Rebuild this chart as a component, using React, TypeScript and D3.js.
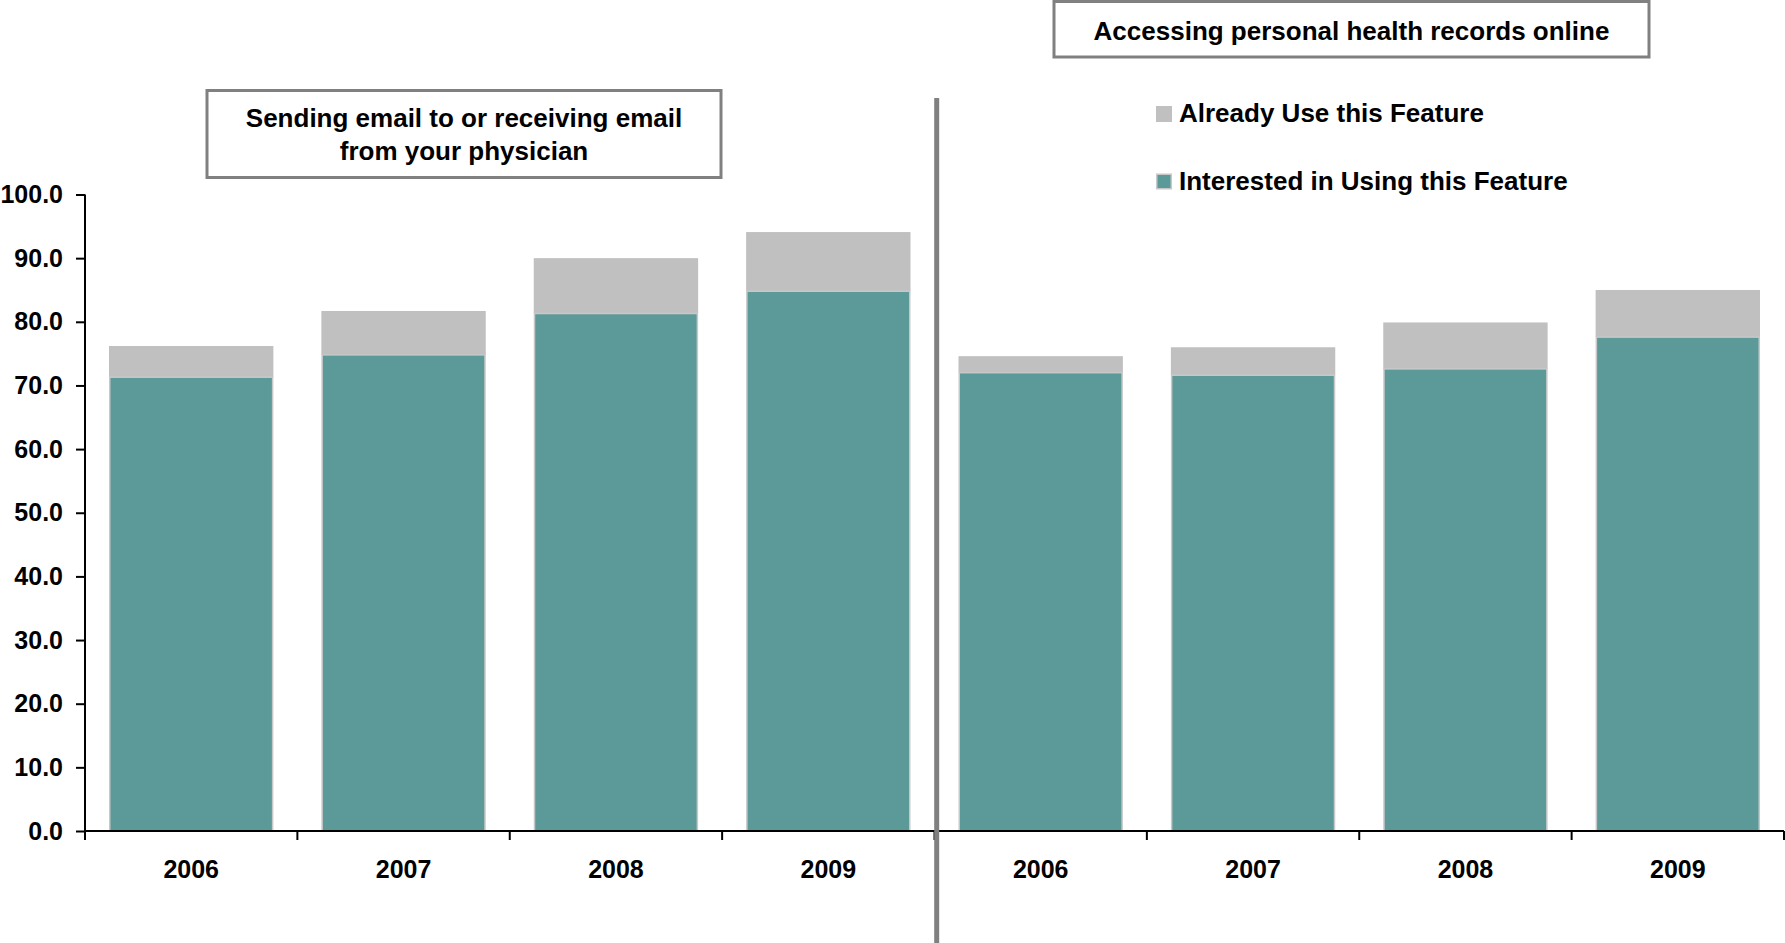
import { useEffect, useRef } from "react";
import * as d3 from "d3";

// ── Data ──────────────────────────────────────────────────────────────────────

const YEARS = ["2006", "2007", "2008", "2009"];
const PANELS = ["email", "phr"];
const PANEL_TITLES: Record<string, string[]> = {
  email: ["Sending email to or receiving email", "from your physician"],
  phr: ["Accessing personal health records online"],
};

// bottom segment (teal)
const INTERESTED_EMAIL = [71.3, 74.8, 81.3, 84.8];
const INTERESTED_PHR   = [72.0, 71.6, 72.6, 77.6];
// top segment (grey)
const ALREADY_EMAIL = [4.9, 6.9, 8.7, 9.3];
const ALREADY_PHR   = [2.6, 4.4, 7.3, 7.4];

const SERIES = ["Already Use this Feature", "Interested in Using this Feature"];
const Y_TICKS = [0, 10, 20, 30, 40, 50, 60, 70, 80, 90, 100];

// ── Tokens ────────────────────────────────────────────────────────────────────

const TEAL   = "#5B9A98";
const GREY   = "#C0C0C0";
const EDGE   = "#C8C8C8";
const FRAME  = "#808080";
const FG     = "#000000";
const FONT   = "'Liberation Sans', Arial, Helvetica, sans-serif";

export default function App() {
  const svgRef = useRef<SVGSVGElement>(null);

  useEffect(() => {
    if (!svgRef.current) return;

    const W = 1785, H = 943;
    const left = 85, right = 1784, top = 194.5, bottom = 831;

    const rows = PANELS.flatMap(p =>
      YEARS.map((yr, i) => ({
        key: `${p}-${yr}`,
        panel: p,
        year: yr,
        interested: p === "email" ? INTERESTED_EMAIL[i] : INTERESTED_PHR[i],
        already: p === "email" ? ALREADY_EMAIL[i] : ALREADY_PHR[i],
      }))
    );

    const svg = d3.select(svgRef.current);
    svg.selectAll("*").remove();
    svg.attr("viewBox", `0 0 ${W} ${H}`);

    const x = d3.scaleBand()
      .domain(rows.map(d => d.key))
      .range([left, right])
      .paddingInner(0.226)
      .paddingOuter(0.113);

    const y = d3.scaleLinear().domain([0, 100]).range([bottom, top]);

    // Grey (already) segments
    svg.append("g").selectAll("rect")
      .data(rows)
      .join("rect")
      .attr("x", d => x(d.key)!)
      .attr("y", d => y(d.interested + d.already))
      .attr("width", x.bandwidth())
      .attr("height", d => y(d.interested) - y(d.interested + d.already))
      .attr("fill", GREY);

    // Teal (interested) segments
    svg.append("g").selectAll("rect")
      .data(rows)
      .join("rect")
      .attr("x", d => x(d.key)! + 0.75)
      .attr("y", d => y(d.interested))
      .attr("width", x.bandwidth() - 1.5)
      .attr("height", d => y(0) - y(d.interested))
      .attr("fill", TEAL)
      .attr("stroke", EDGE)
      .attr("stroke-width", 1.5);

    // Y axis
    svg.append("g")
      .attr("transform", `translate(${left},0)`)
      .call(d3.axisLeft(y).tickValues(Y_TICKS).tickFormat(d3.format(".1f")).tickSize(9).tickPadding(13))
      .call(g => g.select(".domain").attr("stroke", FG).attr("stroke-width", 2).attr("d", `M0,${top}V${bottom}`))
      .call(g => g.selectAll("line").attr("stroke", FG).attr("stroke-width", 2))
      .call(g => g.selectAll("text")
        .attr("fill", FG)
        .attr("font-size", "25px")
        .attr("font-weight", "bold")
        .attr("font-family", FONT));

    // X axis
    const step = x.step();
    const bounds = d3.range(rows.length + 1).map(i => left + i * step);
    const xg = svg.append("g");
    xg.append("line")
      .attr("x1", left).attr("x2", right)
      .attr("y1", bottom).attr("y2", bottom)
      .attr("stroke", FG).attr("stroke-width", 2);
    xg.selectAll(".tick")
      .data(bounds)
      .join("line")
      .attr("class", "tick")
      .attr("x1", d => d).attr("x2", d => d)
      .attr("y1", bottom).attr("y2", bottom + 9)
      .attr("stroke", FG).attr("stroke-width", 2);
    xg.selectAll("text")
      .data(rows)
      .join("text")
      .attr("x", d => x(d.key)! + x.bandwidth() / 2)
      .attr("y", 878)
      .attr("text-anchor", "middle")
      .attr("fill", FG)
      .attr("font-size", "25px")
      .attr("font-weight", "bold")
      .attr("font-family", FONT)
      .text(d => d.year);

    // Divider between panels
    svg.append("line")
      .attr("x1", 936.7).attr("x2", 936.7)
      .attr("y1", 98).attr("y2", H)
      .attr("stroke", FRAME).attr("stroke-width", 5);

    // Title boxes
    const boxes = [
      { panel: "email", x0: 207, y0: 90.5, x1: 721, y1: 177.5, baselines: [127, 160] },
      { panel: "phr", x0: 1054, y0: 1.5, x1: 1649, y1: 57, baselines: [39.5] },
    ];
    boxes.forEach(b => {
      svg.append("rect")
        .attr("x", b.x0).attr("y", b.y0)
        .attr("width", b.x1 - b.x0).attr("height", b.y1 - b.y0)
        .attr("fill", "#fff")
        .attr("stroke", FRAME).attr("stroke-width", 3);
      PANEL_TITLES[b.panel].forEach((line, i) => {
        svg.append("text")
          .attr("x", (b.x0 + b.x1) / 2)
          .attr("y", b.baselines[i])
          .attr("text-anchor", "middle")
          .attr("fill", FG)
          .attr("font-size", "26px")
          .attr("font-weight", "bold")
          .attr("font-family", FONT)
          .text(line);
      });
    });

    // Legend
    const legend = svg.append("g").attr("transform", "translate(1156,106)");
    SERIES.forEach((s, i) => {
      const ly = i * 67.5;
      legend.append("rect")
        .attr("x", i === 1 ? 0.75 : 0).attr("y", ly + (i === 1 ? 0.75 : 0))
        .attr("width", i === 1 ? 14.5 : 16).attr("height", i === 1 ? 14.5 : 16)
        .attr("fill", i === 0 ? GREY : TEAL)
        .attr("stroke", i === 1 ? EDGE : "none")
        .attr("stroke-width", 1.5);
      legend.append("text")
        .attr("x", 23)
        .attr("y", ly + 16)
        .attr("fill", FG)
        .attr("font-size", "26px")
        .attr("font-weight", "bold")
        .attr("font-family", FONT)
        .text(s);
    });
  }, []);

  return (
    <svg
      ref={svgRef}
      width={1785}
      height={943}
      style={{ position: "absolute", left: 0, top: 0, display: "block", background: "#fff" }}
    />
  );
}
